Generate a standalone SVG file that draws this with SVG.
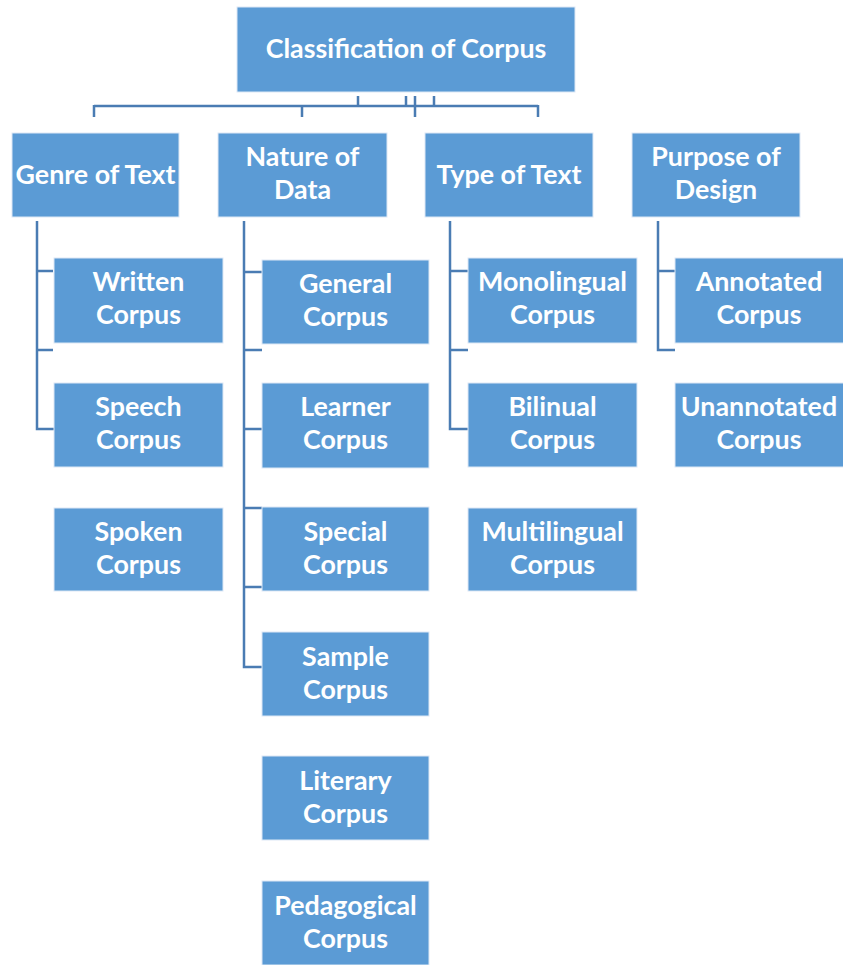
<svg xmlns="http://www.w3.org/2000/svg" width="843" height="965" viewBox="0 0 843 965">
<style>
.box{fill:#5B9BD5;stroke:#DDE8F5;stroke-width:1}
.t{fill:#FFFFFF;font-family:Lato,"Liberation Sans",sans-serif;font-weight:bold;font-size:26.8px;text-anchor:middle}
.c{fill:none;stroke:#4A7CB3;stroke-width:2.5}
</style>
<rect width="843" height="965" fill="#FFFFFF"/>
<g id="connectors">
<path class="c" d="M94,106 H538 M94,105 V117 M302,106 V117 M415,96 V117 M538,105 V117 M358,96 V106 M406,96 V106 M434,96 V106"/>
<path class="c" d="M37,221 V429 H54 M37,271 H53 M37,350 H53"/>
<path class="c" d="M244,221 V667 H262 M244,272 H262 M244,350 H262 M244,429 H262 M244,508 H262 M244,587 H262"/>
<path class="c" d="M450,221 V429 H468 M450,271 H468 M450,350 H468"/>
<path class="c" d="M658,221 V350 H675 M658,271 H675"/>
</g>
<g id="root"><rect class="box" x="237" y="7" width="338" height="85"/><text class="t" x="406" y="58">Classification of Corpus</text></g>
<g id="genre"><rect class="box" x="12" y="133" width="167" height="84"/><text class="t" x="95.5" y="184">Genre of Text</text></g>
<g id="nature"><rect class="box" x="218" y="133" width="169" height="84"/><text class="t" x="302.5" y="166">Nature of</text><text class="t" x="302.5" y="199">Data</text></g>
<g id="type"><rect class="box" x="425" y="133" width="168" height="84"/><text class="t" x="509" y="184">Type of Text</text></g>
<g id="purpose"><rect class="box" x="632" y="133" width="168" height="84"/><text class="t" x="716" y="166">Purpose of</text><text class="t" x="716" y="199">Design</text></g>
<g id="written"><rect class="box" x="54" y="258" width="169" height="85"/><text class="t" x="138.5" y="291">Written</text><text class="t" x="138.5" y="324">Corpus</text></g>
<g id="speech"><rect class="box" x="54" y="383" width="169" height="84"/><text class="t" x="138.5" y="416">Speech</text><text class="t" x="138.5" y="449">Corpus</text></g>
<g id="spoken"><rect class="box" x="54" y="508" width="169" height="83"/><text class="t" x="138.5" y="541">Spoken</text><text class="t" x="138.5" y="574">Corpus</text></g>
<g id="general"><rect class="box" x="262" y="260" width="167" height="84"/><text class="t" x="345.5" y="293">General</text><text class="t" x="345.5" y="326">Corpus</text></g>
<g id="learner"><rect class="box" x="262" y="383" width="167" height="85"/><text class="t" x="345.5" y="416">Learner</text><text class="t" x="345.5" y="449">Corpus</text></g>
<g id="special"><rect class="box" x="262" y="507" width="167" height="84"/><text class="t" x="345.5" y="541">Special</text><text class="t" x="345.5" y="574">Corpus</text></g>
<g id="sample"><rect class="box" x="262" y="632" width="167" height="84"/><text class="t" x="345.5" y="666">Sample</text><text class="t" x="345.5" y="699">Corpus</text></g>
<g id="literary"><rect class="box" x="262" y="756" width="167" height="84"/><text class="t" x="345.5" y="790">Literary</text><text class="t" x="345.5" y="823">Corpus</text></g>
<g id="pedagogical"><rect class="box" x="262" y="881" width="167" height="84"/><text class="t" x="345.5" y="915">Pedagogical</text><text class="t" x="345.5" y="948">Corpus</text></g>
<g id="monolingual"><rect class="box" x="468" y="258" width="169" height="85"/><text class="t" x="552.5" y="291">Monolingual</text><text class="t" x="552.5" y="324">Corpus</text></g>
<g id="bilinual"><rect class="box" x="468" y="383" width="169" height="84"/><text class="t" x="552.5" y="416">Bilinual</text><text class="t" x="552.5" y="449">Corpus</text></g>
<g id="multilingual"><rect class="box" x="468" y="508" width="169" height="83"/><text class="t" x="552.5" y="541">Multilingual</text><text class="t" x="552.5" y="574">Corpus</text></g>
<g id="annotated"><rect class="box" x="675" y="258" width="170" height="85"/><text class="t" x="759" y="291">Annotated</text><text class="t" x="759" y="324">Corpus</text></g>
<g id="unannotated"><rect class="box" x="675" y="383" width="170" height="84"/><text class="t" x="759" y="416">Unannotated</text><text class="t" x="759" y="449">Corpus</text></g>
</svg>
